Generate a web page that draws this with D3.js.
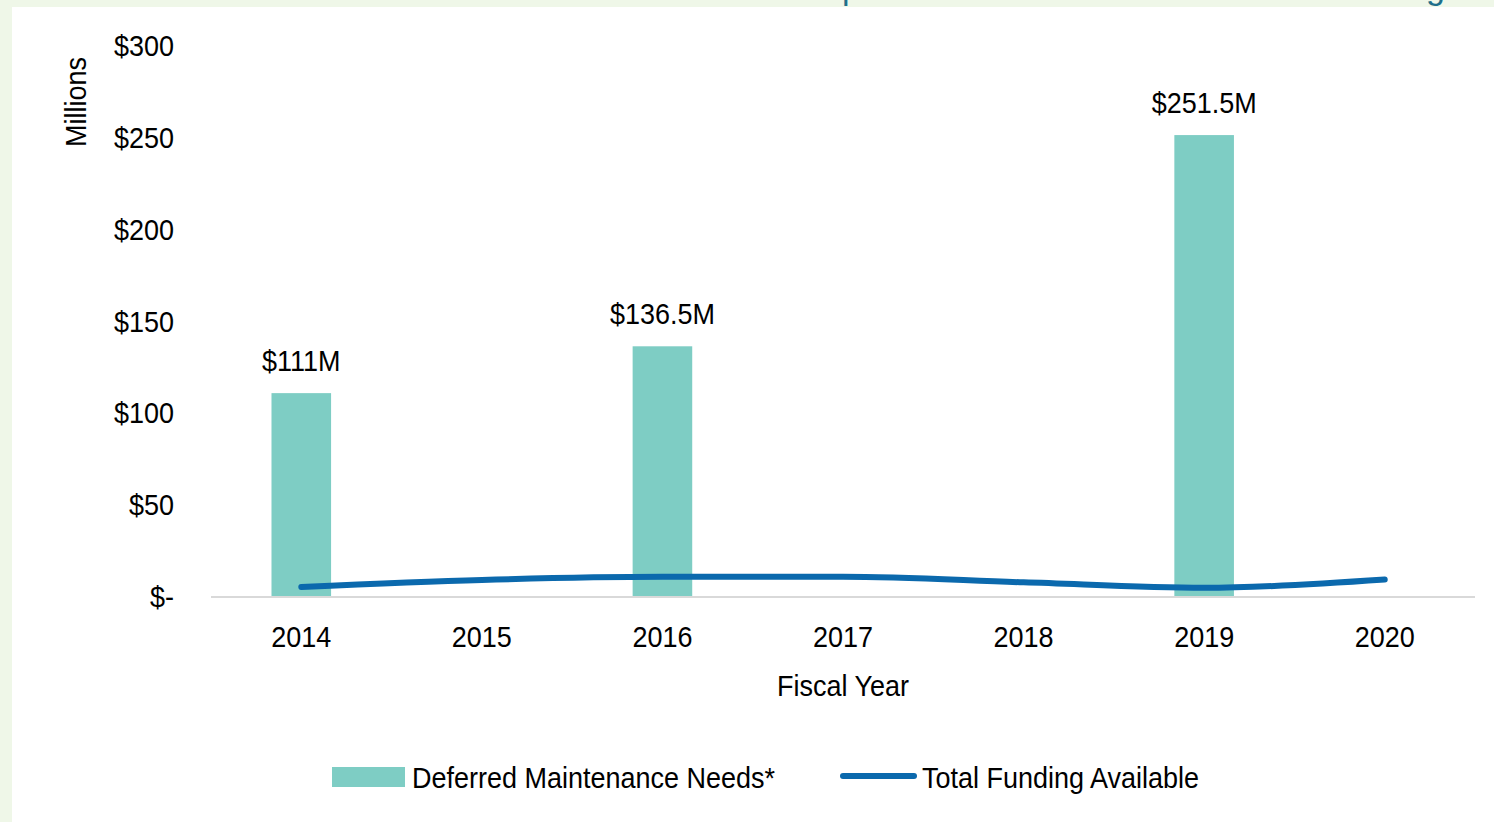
<!DOCTYPE html>
<html lang="en">
<head>
<meta charset="UTF-8">
<title>Deferred Maintenance Needs vs Total Funding Available</title>
<script src="https://d3js.org/d3.v7.min.js"></script>
<style>
  body { margin: 0; background: #eff7e8; overflow: hidden; }
  svg { display: block; }
  text { font-family: "Liberation Sans Narrow", "Arial Narrow", "Liberation Sans", Arial, sans-serif; fill: #000; font-size: 30px; }
</style>
</head>
<body>
<svg id="chart"></svg>
<script>
  // data
  const years = ["2014", "2015", "2016", "2017", "2018", "2019", "2020"];
  const needs = [111, null, 136.5, null, null, 251.5, null];
  const needLabels = ["$111M", null, "$136.5M", null, null, "$251.5M", null];
  const funding = [5.5, 9.3, 11, 11, 8, 5, 9.5];
  const yTicks = [0, 50, 100, 150, 200, 250, 300];

  const W = 1494, H = 822;
  const SX = 0.9; // condensed look of the original font
  const svg = d3.select("#chart").attr("width", W).attr("height", H);

  // narrow text helper
  function label(parent, tx, ty, str, anchor, rot) {
    return parent.append("text")
      .attr("transform", `translate(${tx},${ty})${rot ? " rotate(" + rot + ")" : ""} scale(${SX},1)`)
      .attr("text-anchor", anchor || "start")
      .text(str);
  }

  // white panel + cut-off title descenders
  svg.append("rect").attr("x", 12).attr("y", 7).attr("width", W - 12).attr("height", H - 7).attr("fill", "#fff");
  svg.append("text").attr("x", 842).attr("y", -1).style("font-size", "34px").style("fill", "#1f6f8b").text("p");
  svg.append("text").attr("x", 1426).attr("y", -1).style("font-size", "34px").style("fill", "#1f6f8b").text("g");

  const x = d3.scaleBand().domain(years).range([211, 1475]).paddingInner(0).paddingOuter(0);
  const y = d3.scaleLinear().domain([0, 300]).range([597, 46]);
  const barW = x.bandwidth() * 0.33;
  const cx = d => x(d) + x.bandwidth() / 2;

  const rows = years.map((yr, i) => ({ yr, need: needs[i], label: needLabels[i], fund: funding[i] }));
  const barRows = rows.filter(d => d.need != null);

  // bars
  svg.append("g").selectAll("rect")
    .data(barRows)
    .join("rect")
      .attr("x", d => cx(d.yr) - barW / 2)
      .attr("y", d => y(d.need))
      .attr("width", barW)
      .attr("height", d => y(0) - y(d.need))
      .attr("fill", "#7ecdc4");

  const gl = svg.append("g");
  barRows.forEach(d => label(gl, cx(d.yr), y(d.need) - 22, d.label, "middle"));

  // x axis line
  svg.append("line").attr("x1", 211).attr("x2", 1475).attr("y1", y(0)).attr("y2", y(0))
    .attr("stroke", "#d9d9d9").attr("stroke-width", 2);

  // y labels
  const gy = svg.append("g");
  yTicks.forEach(t => label(gy, 174, y(t) + 10, t === 0 ? "$-" : "$" + t, "end"));

  // x labels
  const gx = svg.append("g");
  years.forEach(yr => label(gx, cx(yr), 647, yr, "middle"));

  // line
  const line = d3.line()
    .x(d => cx(d.yr))
    .y(d => y(d.fund))
    .curve(d3.curveMonotoneX);
  svg.append("path").datum(rows).attr("d", line)
    .attr("fill", "none").attr("stroke", "#0b69ad").attr("stroke-width", 6)
    .attr("stroke-linecap", "round");

  // axis titles
  label(svg, 86, 102, "Millions", "middle", -90);
  label(svg, 843, 696, "Fiscal Year", "middle");

  // legend
  svg.append("rect").attr("x", 332).attr("y", 767).attr("width", 73).attr("height", 20).attr("fill", "#7ecdc4");
  label(svg, 412, 788, "Deferred Maintenance Needs*");
  svg.append("line").attr("x1", 843).attr("x2", 914).attr("y1", 776).attr("y2", 776)
    .attr("stroke", "#0b69ad").attr("stroke-width", 6).attr("stroke-linecap", "round");
  label(svg, 922, 788, "Total Funding Available");
</script>
</body>
</html>
